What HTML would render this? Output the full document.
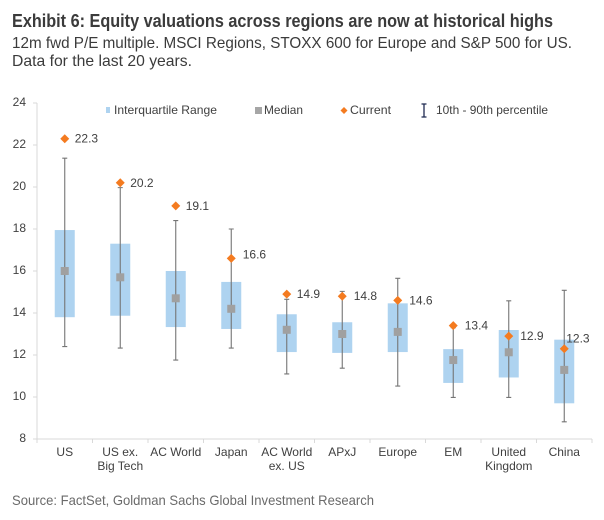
<!DOCTYPE html>
<html>
<head>
<meta charset="utf-8">
<style>
html,body{margin:0;padding:0;background:#fff;width:604px;height:520px;overflow:hidden}
svg{display:block}
text{font-family:"Liberation Sans",sans-serif}
</style>
</head>
<body>
<svg id="chart" width="604" height="520" viewBox="0 0 604 520" xmlns="http://www.w3.org/2000/svg">
<rect width="604" height="520" fill="#fff"/>
<text x="12" y="27" font-size="18" font-weight="bold" fill="#3b3b3b" textLength="541" lengthAdjust="spacingAndGlyphs">Exhibit 6: Equity valuations across regions are now at historical highs</text>
<text x="12" y="48" font-size="16" fill="#3b3b3b" textLength="560" lengthAdjust="spacingAndGlyphs">12m fwd P/E multiple. MSCI Regions, STOXX 600 for Europe and S&amp;P 500 for US.</text>
<text x="12" y="66" font-size="16" fill="#3b3b3b" textLength="180" lengthAdjust="spacingAndGlyphs">Data for the last 20 years.</text>
<text x="12" y="505" font-size="14" fill="#6a6a6a" textLength="362" lengthAdjust="spacingAndGlyphs">Source: FactSet, Goldman Sachs Global Investment Research</text>

<g>
  <rect x="106" y="107" width="4" height="6" fill="#aed3f0"/>
  <text x="114" y="114" font-size="12" fill="#404040" textLength="103" lengthAdjust="spacingAndGlyphs">Interquartile Range</text>
  <rect x="255" y="107" width="7" height="7" fill="#a6a6a6"/>
  <text x="264" y="114" font-size="12" fill="#404040" textLength="39" lengthAdjust="spacingAndGlyphs">Median</text>
  <path d="M344 107 L347.5 110.5 L344 114 L340.500 110.500 Z" fill="#f47b20"/>
  <text x="350" y="114" font-size="12" fill="#404040" textLength="41" lengthAdjust="spacingAndGlyphs">Current</text>
  <path d="M424 104 V117 M421.500 104 H426.500 M421.500 117 H426.500" stroke="#1f2a52" stroke-width="1.300" fill="none"/>
  <text x="436" y="114" font-size="12" fill="#404040" textLength="112" lengthAdjust="spacingAndGlyphs">10th - 90th percentile</text>
</g>
<g id="axes"></g>
<g id="marks"></g>
</svg>
<script>
const categories = [["US"],["US ex.","Big Tech"],["AC World"],["Japan"],["AC World","ex. US"],["APxJ"],["Europe"],["EM"],["United","Kingdom"],["China"]];
const p90 = [21.37,19.97,18.4,18.0,14.65,15.03,15.65,13.3,14.58,15.08];
const p75 = [17.95,17.3,16.0,15.48,13.94,13.56,14.46,12.28,13.19,12.73];
const median = [16.0,15.7,14.7,14.2,13.2,13.0,13.1,11.76,12.13,11.29];
const p25 = [13.8,13.87,13.33,13.24,12.14,12.1,12.14,10.67,10.93,9.7];
const p10 = [12.4,12.33,11.76,12.33,11.1,11.37,10.52,9.98,9.98,8.82];
const current = [22.3,20.2,19.1,16.6,14.9,14.8,14.6,13.4,12.9,12.3];
const yTicks = [8,10,12,14,16,18,20,22,24];

const NS = "http://www.w3.org/2000/svg";
const plotLeft = 37, plotRight = 592, plotBottom = 439, plotTop = 103;
const yMin = 8, yMax = 24;
function yScale(v){ return plotBottom - (v - yMin) / (yMax - yMin) * (plotBottom - plotTop); }
function bandWidth(){ return (plotRight - plotLeft) / categories.length; }
function xScale(i){ return plotLeft + (i + 0.5) * bandWidth(); }
function make(tag, attrs, parent, txt){
  const el = document.createElementNS(NS, tag);
  for (const k in attrs) el.setAttribute(k, attrs[k]);
  if (txt !== undefined) el.textContent = txt;
  parent.appendChild(el);
  return el;
}
function labelDx(i){ return i === 9 ? 2 : (i === 4 ? 10 : (i === 0 || i === 1 || i === 2 ? 10 : 11.5)); }
function labelDy(i){ return i === 9 ? -6 : (i === 3 ? 0 : 4); }

const axes = document.getElementById("axes");
const marks = document.getElementById("marks");

const yAxisLine = make("line", {x1:plotLeft, x2:plotLeft, y1:plotTop, y2:plotBottom, stroke:"#d9d9d9", "stroke-width":1}, axes);


const xAxisLine = make("line", {x1:plotLeft, x2:plotRight, y1:plotBottom, y2:plotBottom, stroke:"#d9d9d9", "stroke-width":1}, axes);



yTicks.forEach(function(t){
  const y = yScale(t);
  const tick = make("line", {x1:plotLeft-4, x2:plotLeft, y1:y, y2:y, stroke:"#d9d9d9", "stroke-width":1}, axes);
  
  
  const lab = make("text", {x:plotLeft-11, y:y+3, "text-anchor":"end", "font-size":12, fill:"#404040"}, axes, String(t));
  
  
});

for (let i = 0; i <= categories.length; i++){
  const x = plotLeft + i * bandWidth();
  const tick = make("line", {x1:x, x2:x, y1:plotBottom, y2:plotBottom+4, stroke:"#d9d9d9", "stroke-width":1}, axes);
  
  
}

categories.forEach(function(lines, i){
  const x = xScale(i);
  lines.forEach(function(line, j){
    const lab = make("text", {x:x, y:456 + j*14, "text-anchor":"middle", "font-size":12, fill:"#404040"}, axes, line);
    
    
  });

  const boxW = 20;
  const box = make("rect", {x:x-boxW/2, y:yScale(p75[i]), width:boxW, height:yScale(p25[i])-yScale(p75[i]), fill:"#aed3f0"}, marks);
  
  

  const wh = make("path", {d:"M"+x+" "+yScale(p90[i])+" V"+yScale(p10[i])+" M"+(x-2.5)+" "+yScale(p90[i])+" H"+(x+2.5)+" M"+(x-2.5)+" "+yScale(p10[i])+" H"+(x+2.5), stroke:"#757575", "stroke-width":1.100, fill:"none"}, marks);
  
  

  const med = make("rect", {x:x-4, y:yScale(median[i])-4, width:8, height:8, fill:"#a0a0a0"}, marks);
  
  

  const cy = yScale(current[i]);
  const dia = make("path", {d:"M"+x+" "+(cy-4.500)+" L"+(x+4.500)+" "+cy+" L"+x+" "+(cy+4.500)+" L"+(x-4.500)+" "+cy+" Z", fill:"#f47b20"}, marks);
  
  

  const val = make("text", {x:x+labelDx(i), y:cy+labelDy(i), "font-size":12, fill:"#404040"}, marks, current[i].toFixed(1));
  
  
});
</script>
</body>
</html>
